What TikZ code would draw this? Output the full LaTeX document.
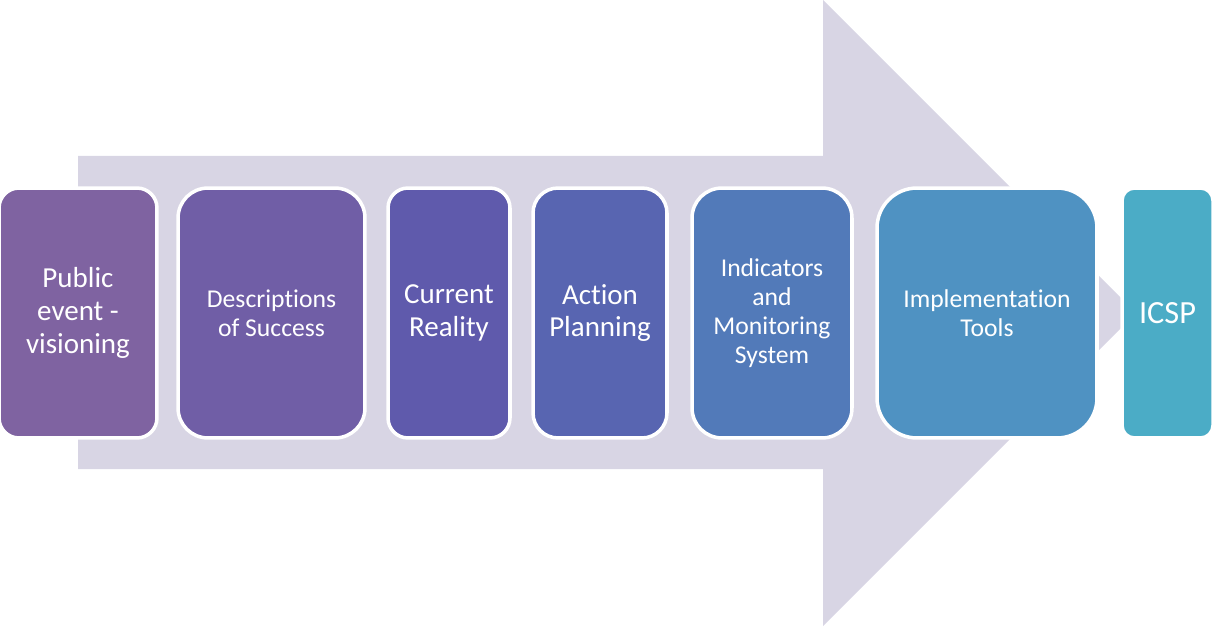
\documentclass[tikz,border=0pt]{standalone}
\usepackage{fontspec}
\setmainfont{Carlito}[Ligatures=NoCommon]
\definecolor{arrowgray}{HTML}{D8D5E4}
\definecolor{cpub}{HTML}{7F63A1}
\definecolor{cdesc}{HTML}{705EA6}
\definecolor{ccur}{HTML}{5F5AAC}
\definecolor{cact}{HTML}{5865B1}
\definecolor{cind}{HTML}{527AB9}
\definecolor{cimpl}{HTML}{4F92C2}
\definecolor{cicsp}{HTML}{4BACC6}
\tikzset{
  stage/.style={draw=white, line width=2pt, text=white, align=center,
    minimum height=5cm, inner sep=0pt},
  bigtext/.style={font=\fontsize{16.5}{18.7}\selectfont},
  smalltext/.style={font=\fontsize{14.6}{16.4}\selectfont}
}
\begin{document}
\begin{tikzpicture}[x=0.02cm, y=-0.02cm]
  \useasboundingbox (0,0) rectangle (1213,628);
  % big arrow behind the stages
  \fill[arrowgray] (78,156) -- (823,156) -- (823,0) -- (1136,313)
    -- (823,626) -- (823,469) -- (78,469) -- cycle;
  % stages
  \node[stage, bigtext, fill=cpub, minimum width=3.16cm, rounded corners=0.4cm]
    (pub) at (78,313) {Public\\event -\\visioning};
  \node[stage, smalltext, fill=cdesc, minimum width=3.74cm, rounded corners=0.6cm]
    (desc) at (271.5,313) {Descriptions\\of Success};
  \node[stage, bigtext, fill=ccur, minimum width=2.44cm, rounded corners=0.4cm]
    (cur) at (449,313) {Current\\Reality};
  \node[stage, bigtext, fill=cact, minimum width=2.68cm, rounded corners=0.5cm]
    (act) at (600,313) {Action\\Planning};
  \node[stage, smalltext, fill=cind, minimum width=3.2cm, rounded corners=0.6cm]
    (ind) at (772,313) {Indicators\\and\\Monitoring\\System};
  \node[stage, smalltext, fill=cimpl, minimum width=4.4cm, rounded corners=0.8cm]
    (impl) at (987,313) {Implementation\\Tools};
  \node[stage, fill=cicsp, minimum width=1.82cm, rounded corners=0.25cm,
    font=\fontsize{18.4}{22}\selectfont]
    (icsp) at (1167.5,313) {ICSP};
\end{tikzpicture}
\end{document}
